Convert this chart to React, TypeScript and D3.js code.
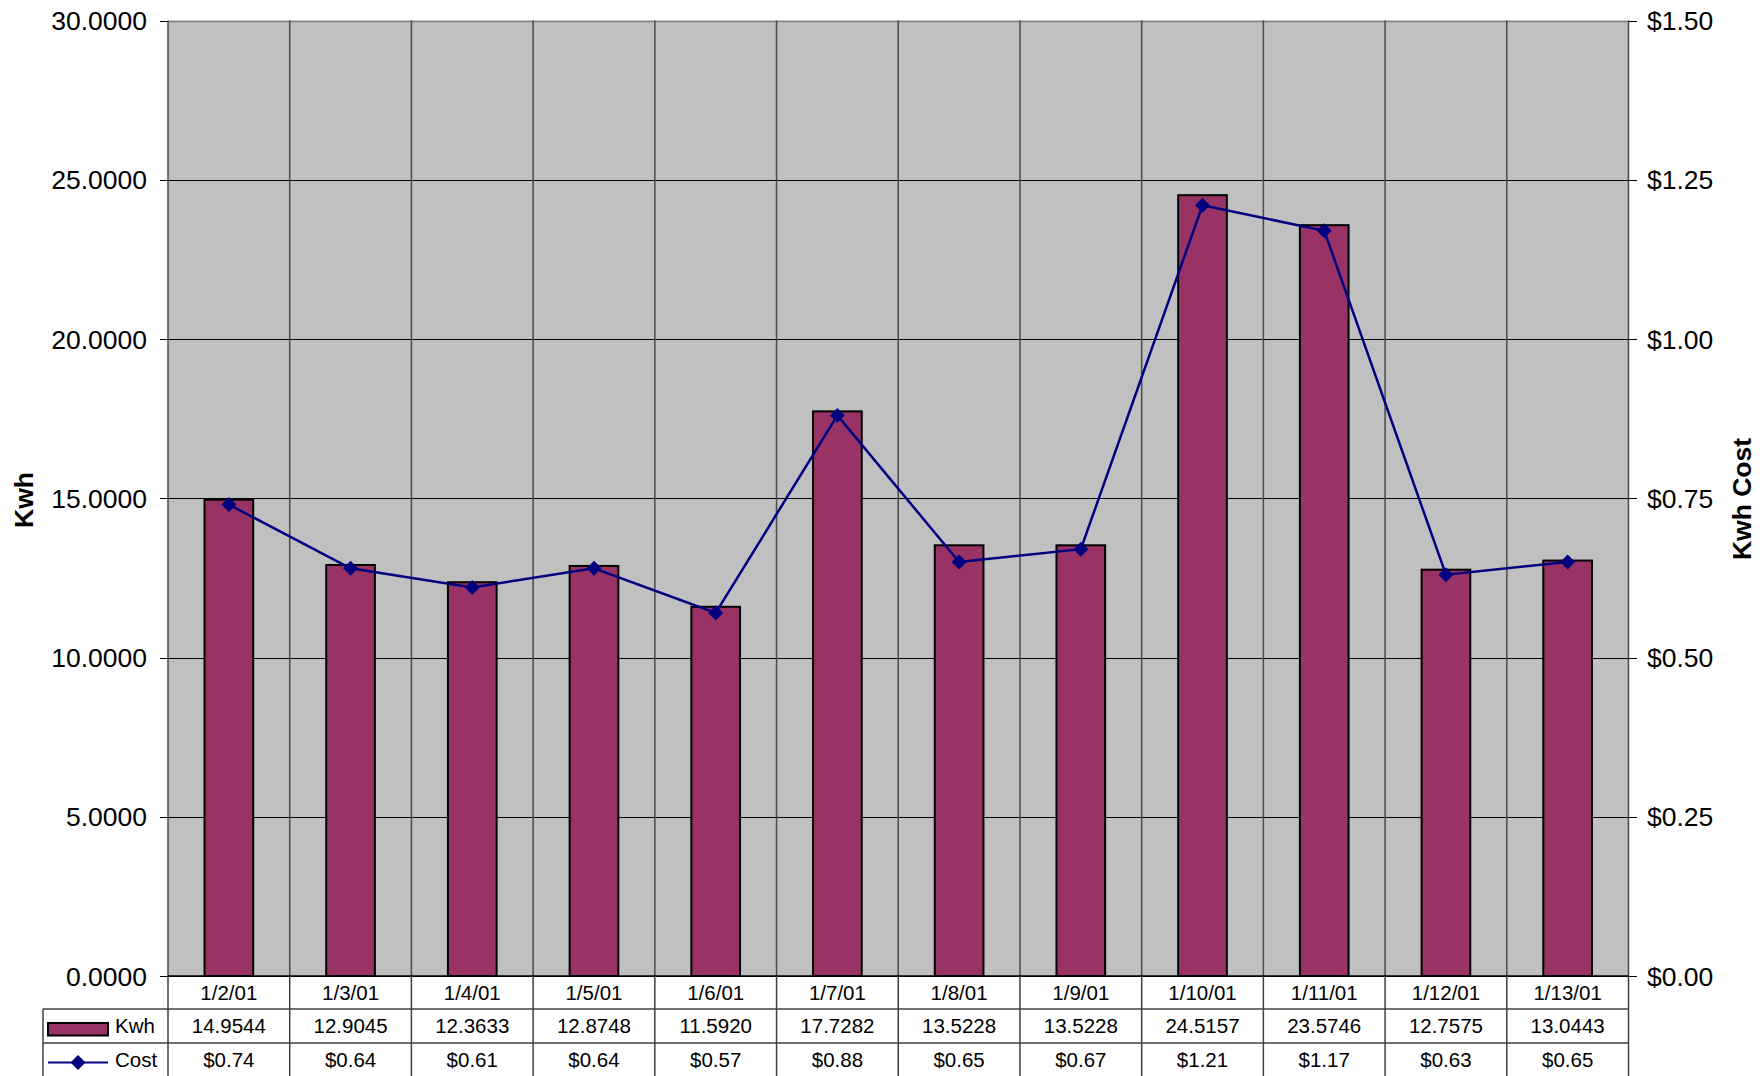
import React from "react";
import * as d3 from "d3";

const dates = ["1/2/01","1/3/01","1/4/01","1/5/01","1/6/01","1/7/01","1/8/01","1/9/01","1/10/01","1/11/01","1/12/01","1/13/01"];
const kwh = [14.9544,12.9045,12.3633,12.8748,11.592,17.7282,13.5228,13.5228,24.5157,23.5746,12.7575,13.0443];
const cost = [0.74,0.64,0.61,0.64,0.57,0.88,0.65,0.67,1.21,1.17,0.63,0.65];
const kwhTicks = [0,5,10,15,20,25,30];
const costTicks = [0,0.25,0.5,0.75,1,1.25,1.5];

const W = 1763, H = 1076;
const L = 168, R = 1628.5, T = 20.5, B = 976;
const FONT = "'Liberation Sans', Arial, sans-serif";
const crisp = (v: number) => Math.round(v) + 0.5;

export default function App() {
  const x = d3.scaleBand<string>().domain(dates).range([L, R]).paddingInner(0.6).paddingOuter(0.3);
  const step = x.step();
  const y = d3.scaleLinear().domain([0, 30]).range([B, T]);
  const y2 = d3.scaleLinear().domain([0, 1.5]).range([B, T]);
  const cx = (d: string) => (x(d) as number) + x.bandwidth() / 2;
  const line = d3.line<number>().x((_, i) => cx(dates[i])).y((v) => y2(v));
  const row1 = 1009, row2 = 1043;
  const boundaries = d3.range(dates.length + 1).map((i) => L + i * step);

  return (
    <svg width={W} height={H} style={{ position: "absolute", left: 0, top: 0, background: "#fff" }} fontFamily={FONT}>
      <rect x={L} y={T} width={R - L} height={B - T} fill="#c0c0c0" />
      {/* horizontal gridlines */}
      {kwhTicks.map((t) => (
        <line key={"h" + t} x1={L} x2={R} y1={crisp(y(t))} y2={crisp(y(t))} stroke={t === 30 ? "#808080" : "#000"} strokeWidth={t === 30 ? 1.5 : 1} />
      ))}
      {/* vertical gridlines in plot */}
      {boundaries.map((bx, i) => (
        <line key={"v" + i} x1={bx} x2={bx} y1={T} y2={B} stroke="#4a4a4a" strokeWidth={1.5} />
      ))}
      {/* bars */}
      {kwh.map((v, i) => (
        <rect key={"b" + i} x={x(dates[i]) as number} y={y(v)} width={x.bandwidth()} height={B - y(v)} fill="#993366" stroke="#000" strokeWidth={2} />
      ))}
      {/* line */}
      <path d={line(cost) as string} fill="none" stroke="#000080" strokeWidth={2.5} />
      {cost.map((v, i) => {
        const px = cx(dates[i]), py = y2(v), s = 7.5;
        return <path key={"m" + i} d={`M${px},${py - s}L${px + s},${py}L${px},${py + s}L${px - s},${py}Z`} fill="#000080" />;
      })}
      {/* axes ticks */}
      {kwhTicks.map((t) => (
        <g key={"lt" + t}>
          <line x1={160} x2={L} y1={crisp(y(t))} y2={crisp(y(t))} stroke="#000" strokeWidth={1} />
          <text x={147} y={y(t)} dy="0.36em" textAnchor="end" fontSize={26.5} fill="#000">{d3.format(".4f")(t)}</text>
        </g>
      ))}
      {costTicks.map((t) => (
        <g key={"rt" + t}>
          <line x1={R} x2={1637} y1={crisp(y2(t))} y2={crisp(y2(t))} stroke="#000" strokeWidth={1} />
          <text x={1647} y={y2(t)} dy="0.36em" textAnchor="start" fontSize={26.5} fill="#000">{d3.format("$.2f")(t)}</text>
        </g>
      ))}
      <line x1={L} x2={R} y1={B} y2={B} stroke="#000" strokeWidth={1.5} />
      {/* axis titles */}
      <text transform={`translate(33,500) rotate(-90)`} textAnchor="middle" fontSize={26.5} fontWeight="bold">Kwh</text>
      <text transform={`translate(1751,499) rotate(-90)`} textAnchor="middle" fontSize={26.5} fontWeight="bold">Kwh Cost</text>
      {/* data table */}
      {boundaries.map((bx, i) => (
        <line key={"tv" + i} x1={bx} x2={bx} y1={B} y2={H} stroke="#404040" strokeWidth={1.5} />
      ))}
      <line x1={43} x2={43} y1={row1} y2={H} stroke="#404040" strokeWidth={1.5} />
      <line x1={43} x2={R} y1={row1} y2={row1} stroke="#404040" strokeWidth={1.5} />
      <line x1={43} x2={R} y1={row2} y2={row2} stroke="#404040" strokeWidth={1.5} />
      {dates.map((d, i) => (
        <g key={"tt" + i}>
          <text x={L + (i + 0.5) * step} y={(B + row1) / 2} dy="0.36em" textAnchor="middle" fontSize={20.5}>{d}</text>
          <text x={L + (i + 0.5) * step} y={(row1 + row2) / 2} dy="0.36em" textAnchor="middle" fontSize={20.5}>{d3.format(".4f")(kwh[i])}</text>
          <text x={L + (i + 0.5) * step} y={row2 + 17} dy="0.36em" textAnchor="middle" fontSize={20.5}>{d3.format("$.2f")(cost[i])}</text>
        </g>
      ))}
      {/* legend keys */}
      <rect x={48} y={1023} width={60} height={12.5} fill="#993366" stroke="#000" strokeWidth={2} />
      <text x={115} y={(row1 + row2) / 2} dy="0.36em" fontSize={20.5}>Kwh</text>
      <line x1={48} x2={108} y1={1062.5} y2={1062.5} stroke="#000080" strokeWidth={2} />
      <path d={`M78,${1062.5 - 7.5}L85.5,1062.5L78,${1062.5 + 7.5}L70.5,1062.5Z`} fill="#000080" />
      <text x={115} y={row2 + 17} dy="0.36em" fontSize={20.5}>Cost</text>
    </svg>
  );
}
